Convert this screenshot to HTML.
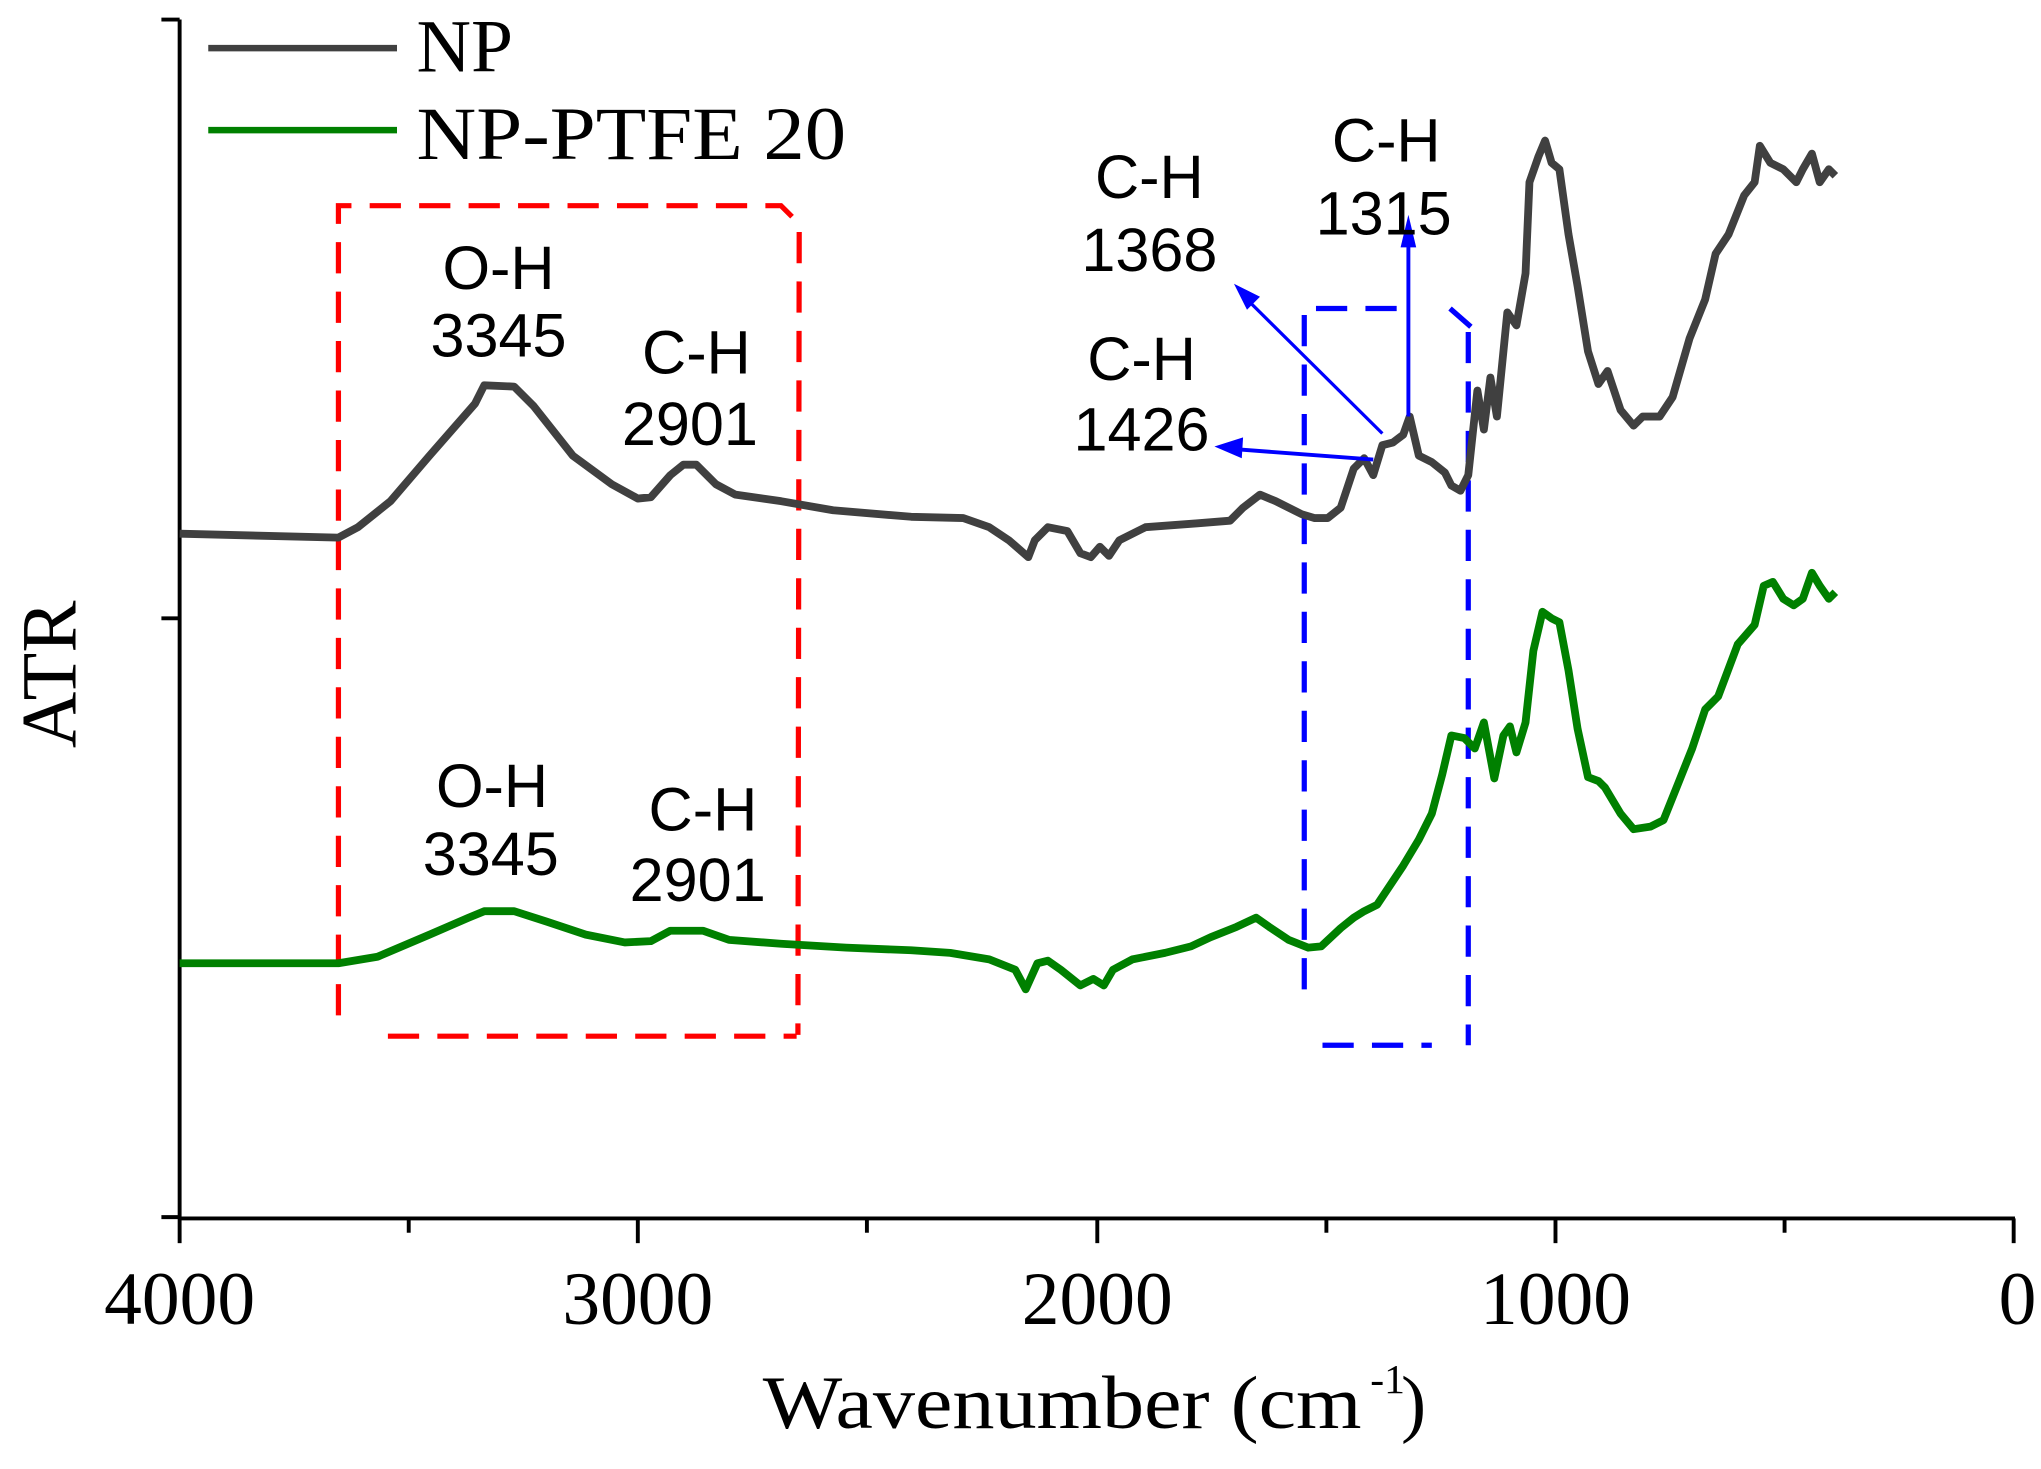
<!DOCTYPE html>
<html><head><meta charset="utf-8"><style>
html,body{margin:0;padding:0;background:#fff;}
svg{display:block;}
</style></head><body>
<svg width="2041" height="1469" viewBox="0 0 1568 1128.5" preserveAspectRatio="none" xmlns="http://www.w3.org/2000/svg">
<rect width="1568" height="1128.5" fill="#fff"/>
<g stroke="#000" stroke-width="3" fill="none">
<line x1="138" y1="15" x2="138" y2="936"/>
<line x1="137" y1="936" x2="1548" y2="936"/>
<line x1="124" y1="15" x2="138" y2="15"/>
<line x1="124" y1="475" x2="138" y2="475"/>
<line x1="124" y1="935" x2="138" y2="935"/>
<line x1="138" y1="936" x2="138" y2="955"/>
<line x1="490" y1="936" x2="490" y2="955"/>
<line x1="843" y1="936" x2="843" y2="955"/>
<line x1="1195" y1="936" x2="1195" y2="955"/>
<line x1="1547" y1="936" x2="1547" y2="955"/>
<line x1="314" y1="936" x2="314" y2="947"/>
<line x1="666" y1="936" x2="666" y2="947"/>
<line x1="1019" y1="936" x2="1019" y2="947"/>
<line x1="1371" y1="936" x2="1371" y2="947"/>
</g>
<g font-family="Liberation Serif, serif" font-size="58" text-anchor="middle" fill="#000">
<text x="138" y="1017">4000</text>
<text x="490" y="1017">3000</text>
<text x="843" y="1017">2000</text>
<text x="1195" y="1017">1000</text>
<text x="1550" y="1017">0</text>
<text x="586" y="1097" text-anchor="start" textLength="460" lengthAdjust="spacingAndGlyphs">Wavenumber (cm</text>
<text x="1066" y="1070" font-size="32">-1</text>
<text x="1086" y="1097">)</text>
<text transform="translate(58,518) rotate(-90)" font-size="60">ATR</text>
</g>
<line x1="160" y1="37" x2="305" y2="37" stroke="#404040" stroke-width="5"/>
<line x1="160" y1="100" x2="305" y2="100" stroke="#008000" stroke-width="5"/>
<g font-family="Liberation Serif, serif" font-size="58" fill="#000">
<text x="320" y="55">NP</text>
<text x="320" y="122" textLength="330" lengthAdjust="spacingAndGlyphs">NP-PTFE 20</text>
</g>
<g stroke="#ff0000" stroke-width="4" fill="none" stroke-dasharray="24,14">
<polyline points="260,780 260,158 600,158 614,172 613,795"/>
<line x1="298" y1="796" x2="612" y2="796"/>
</g>
<g stroke="#0000ff" stroke-width="4" fill="none" stroke-dasharray="24,14">
<polyline points="1002,760 1002,237 1085,237"/>
<line x1="1114" y1="237" x2="1130" y2="251"/>
<line x1="1128" y1="255" x2="1128" y2="803"/>
<line x1="1016" y1="803" x2="1100" y2="803"/>
</g>
<polyline fill="none" stroke="#404040" stroke-width="6" stroke-linejoin="round" points="138,410 260,413 275,405 300,385 330,350 365,310 372,296 395,297 410,312 440,350 470,372 490,383 500,382 515,365 525,357 535,357 550,372 565,380 600,385 640,392 700,397 740,398 760,405 775,415 790,428 795,415 805,405 820,408 830,425 838,428 845,420 852,427 860,415 880,405 920,402 945,400 955,390 968,380 980,385 1000,395 1010,398 1020,398 1030,390 1040,360 1048,352 1055,365 1062,342 1070,340 1078,334 1083,320 1090,350 1100,355 1110,363 1115,373 1122,377 1128,365 1135,300 1140,330 1145,290 1150,320 1158,240 1165,250 1172,210 1175,140 1182,120 1187,108 1192,125 1198,130 1205,180 1212,220 1220,270 1228,295 1235,285 1245,315 1255,327 1262,320 1275,320 1285,305 1298,260 1310,230 1318,195 1328,180 1340,150 1348,140 1352,112 1360,125 1370,130 1380,140 1385,130 1392,118 1398,140 1405,130 1410,135"/>
<polyline fill="none" stroke="#008000" stroke-width="6" stroke-linejoin="round" points="138,740 260,740 290,735 330,718 360,705 372,700 395,700 420,708 450,718 480,724 500,723 515,715 540,715 560,722 600,725 650,728 700,730 730,732 760,737 780,745 788,760 797,740 805,738 815,745 830,757 840,752 848,757 855,745 870,737 895,732 915,727 930,720 950,712 965,705 975,712 990,722 1005,728 1015,727 1030,713 1040,705 1048,700 1058,695 1068,680 1078,665 1090,645 1100,625 1108,595 1115,565 1125,567 1133,575 1140,555 1148,598 1155,565 1160,558 1165,578 1172,555 1178,500 1185,470 1192,475 1198,478 1205,515 1212,560 1220,597 1228,600 1233,605 1245,625 1255,637 1268,635 1278,630 1290,600 1300,575 1310,545 1320,535 1335,495 1348,480 1355,450 1362,447 1370,460 1378,465 1385,460 1392,440 1398,450 1405,460 1410,455"/>
<g stroke="#0000ff" stroke-width="2.5" fill="#0000ff">
<line x1="1062" y1="333" x2="958" y2="230"/>
<polygon points="948,218 968,228 958,238" stroke="none"/>
<line x1="1082" y1="320" x2="1082" y2="180" stroke-width="3"/>
<polygon points="1082,165 1076,190 1088,190" stroke="none"/>
<line x1="1055" y1="353" x2="948" y2="345" stroke-width="3"/>
<polygon points="933,343 955,336 954,352" stroke="none"/>
</g>
<g font-family="Liberation Sans, sans-serif" font-size="47" text-anchor="middle" fill="#000">
<text x="383" y="222">O-H</text>
<text x="383" y="274">3345</text>
<text x="535" y="287">C-H</text>
<text x="530" y="342">2901</text>
<text x="883" y="152">C-H</text>
<text x="883" y="208">1368</text>
<text x="1065" y="124">C-H</text>
<text x="1063" y="180">1315</text>
<text x="877" y="292">C-H</text>
<text x="877" y="346">1426</text>
<text x="378" y="620">O-H</text>
<text x="377" y="672">3345</text>
<text x="540" y="638">C-H</text>
<text x="536" y="692">2901</text>
</g>
</svg>
</body></html>
